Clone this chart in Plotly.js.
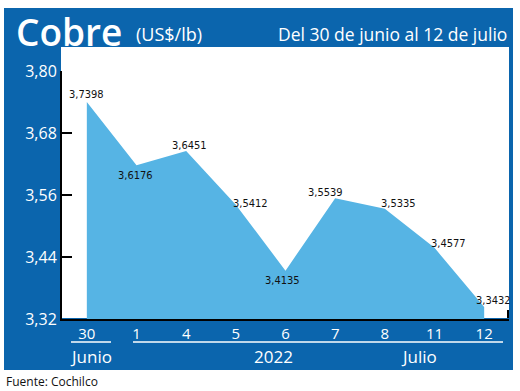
<!DOCTYPE html>
<html>
<head>
<meta charset="utf-8">
<script src="https://cdn.plot.ly/plotly-3.0.1.min.js"></script>
<style>html,body{margin:0;padding:0;background:#fff}#chart{width:520px;height:391px}</style>
</head>
<body>
<div id="chart"></div>
<script>
var categories = ["30", "1", "4", "5", "6", "7", "8", "11", "12"];
var values = [3.7398, 3.6176, 3.6451, 3.5412, 3.4135, 3.5539, 3.5335, 3.4577, 3.3432];
var valueLabels = ["3,7398", "3,6176", "3,6451", "3,5412", "3,4135", "3,5539", "3,5335", "3,4577", "3,3432"];
var yTicks = [3.32, 3.44, 3.56, 3.68, 3.80];
var yTickText = ["3,32", "3,44", "3,56", "3,68", "3,80"];
var labelShiftX = [0, -1, 3, 15, -3, -10, 14, 14, 9];
var labelShiftY = [8, -10, 6, 1, -10, 6, 5, 4, 7];

var W = 520, H = 391;
function px(x){return x / W;}
function py(y){return 1 - y / H;}

var blue = "#0b65ad";
var fillBlue = "#56b4e4";
var condensed = "DejaVu Sans Condensed, Liberation Sans Narrow, Roboto, sans-serif";
var mainFont = "Open Sans, Noto Sans, sans-serif";

var trace = {
  x: categories,
  y: values,
  type: "scatter",
  mode: "lines",
  fill: "tozeroy",
  fillcolor: fillBlue,
  line: {color: fillBlue, width: 0},
  hoverinfo: "skip"
};

var annotations = values.map(function(v, i){
  return {
    x: i, y: v, xref: "x", yref: "y",
    text: valueLabels[i], showarrow: false,
    xshift: labelShiftX[i], yshift: labelShiftY[i],
    font: {family: condensed, size: 11, color: "#111"}
  };
});

annotations.push(
  {xref: "paper", yref: "paper", x: px(14), y: py(31), xanchor: "left", yanchor: "middle",
   text: "Cobre", showarrow: false, font: {family: mainFont, size: 37, color: "#fff", weight: 600}},
  {xref: "paper", yref: "paper", x: px(134), y: py(34), xanchor: "left", yanchor: "middle",
   text: "(US$/lb)", showarrow: false, font: {family: mainFont, size: 18, color: "#fff"}},
  {xref: "paper", yref: "paper", x: px(509), y: py(34), xanchor: "right", yanchor: "middle",
   text: "Del 30 de junio al 12 de julio", showarrow: false, font: {family: mainFont, size: 17.5, color: "#fff"}},
  {xref: "paper", yref: "paper", x: px(91), y: py(356), xanchor: "center", yanchor: "middle",
   text: "Junio", showarrow: false, font: {family: mainFont, size: 17, color: "#fff"}},
  {xref: "paper", yref: "paper", x: px(273), y: py(356), xanchor: "center", yanchor: "middle",
   text: "2022", showarrow: false, font: {family: mainFont, size: 17, color: "#fff"}},
  {xref: "paper", yref: "paper", x: px(419), y: py(356), xanchor: "center", yanchor: "middle",
   text: "Julio", showarrow: false, font: {family: mainFont, size: 17, color: "#fff"}},
  {xref: "paper", yref: "paper", x: px(4), y: py(381), xanchor: "left", yanchor: "middle",
   text: "Fuente: Cochilco", showarrow: false, font: {family: mainFont, size: 12, color: "#111"}}
);

var shapes = [
  {type: "rect", xref: "paper", yref: "paper", x0: px(4), x1: px(513), y0: py(8), y1: py(370),
   fillcolor: blue, line: {width: 0}, layer: "below"},
  {type: "rect", xref: "paper", yref: "paper", x0: px(61), x1: px(509), y0: py(47), y1: py(318),
   fillcolor: "#fff", line: {width: 0}, layer: "below"},
  {type: "line", xref: "paper", yref: "paper", x0: px(71), x1: px(111), y0: py(342), y1: py(342),
   line: {color: "#fff", width: 1.5}},
  {type: "line", xref: "paper", yref: "paper", x0: px(133), x1: px(503), y0: py(342), y1: py(342),
   line: {color: "#fff", width: 1.5}},
  {type: "line", xref: "paper", yref: "paper", x0: px(508), x1: px(508), y0: py(318), y1: py(310),
   line: {color: "#000", width: 2}}
];

var layout = {
  width: W, height: H,
  margin: {l: 0, r: 0, t: 0, b: 0},
  paper_bgcolor: "#fff",
  plot_bgcolor: "rgba(0,0,0,0)",
  showlegend: false,
  separators: ",.",
  xaxis: {
    domain: [px(62), px(509)],
    type: "category",
    range: [-0.5, 8.5],
    showline: true, linecolor: "#000", linewidth: 2,
    showgrid: false, zeroline: false,
    ticks: "",
    tickfont: {family: mainFont, size: 15, color: "#fff"},
    fixedrange: true
  },
  yaxis: {
    domain: [py(319), py(71)],
    range: [3.32, 3.80],
    tickvals: yTicks, ticktext: yTickText,
    showline: true, linecolor: "#000", linewidth: 2,
    ticks: "inside", ticklen: 10, tickwidth: 2, tickcolor: "#000",
    showgrid: false, zeroline: false,
    tickfont: {family: mainFont, size: 16, color: "#fff"},
    fixedrange: true
  },
  shapes: shapes,
  annotations: annotations
};

Plotly.newPlot("chart", [trace], layout, {displayModeBar: false, staticPlot: true});
</script>
</body>
</html>
